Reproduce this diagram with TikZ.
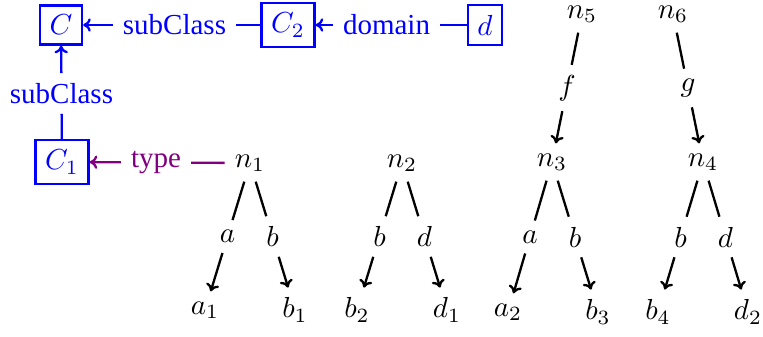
\documentclass[tikz,border=0pt]{standalone}
\usepackage{fontspec}
\setmainfont{Liberation Serif}
\usetikzlibrary{calc,arrows.meta}
\definecolor{mypurple}{RGB}{128,0,128}
\begin{document}
\begin{tikzpicture}[x=0.345pt,y=-0.345pt,>={To[length=2.6pt,width=4.6pt]},
  cls/.style={draw=blue,text=blue,line width=0.8pt},
  bl/.style={draw=blue,line width=0.8pt},
  pl/.style={draw=mypurple,line width=0.8pt},
  kl/.style={draw=black,line width=0.8pt}]
\useasboundingbox (0,0) rectangle (763,336);
% classes
\node[cls] (C) at (61,25) {$C$};
\node[cls] (C2) at (288,25) {$C_2$};
\node[cls] (d) at (485,25) {$d$};
\node[cls] (C1) at (62,162) {$C_1$};
% instance nodes
\node (n1) at (250,163) {$n_1$};
\node (n2) at (402,163) {$n_2$};
\node (n3) at (552,162) {$n_3$};
\node (n4) at (703,162) {$n_4$};
\node (n5) at (582,14) {$n_5$};
\node (n6) at (673,14) {$n_6$};
\node (a1) at (205,310) {$a_1$};
\node (b1) at (295,310) {$b_1$};
\node (b2) at (357,310) {$b_2$};
\node (d1) at (447,310) {$d_1$};
\node (a2) at (508,312) {$a_2$};
\node (b3) at (598,312) {$b_3$};
\node (b4) at (658,312) {$b_4$};
\node (d2) at (748,312) {$d_2$};
% class-level labels
\node[text=blue] (l1) at ($(C)!0.5!(C2)$) {subClass};
\node[text=blue] (l2) at ($(C2)!0.5!(d)$) {domain};
\node[text=blue] (l3) at ($(C)!0.5!(C1)$) {subClass};
\node[text=mypurple] (l4) at ($(C1)!0.5!(n1)$) {type};
\draw[bl] (C2) -- (l1); \draw[bl,->] (l1) -- (C);
\draw[bl] (d) -- (l2); \draw[bl,->] (l2) -- (C2);
\draw[bl] (C1) -- (l3); \draw[bl,->] (l3) -- (C);
\draw[pl] (n1) -- (l4); \draw[pl,->] (l4) -- (C1);
% tree labels
\node (e1) at ($(n1)!0.5!(a1)$) {$a$};
\node (e2) at ($(n1)!0.5!(b1)$) {$b$};
\node (e3) at ($(n2)!0.5!(b2)$) {$b$};
\node (e4) at ($(n2)!0.5!(d1)$) {$d$};
\node (e5) at ($(n3)!0.5!(a2)$) {$a$};
\node (e6) at ($(n3)!0.5!(b3)$) {$b$};
\node (e7) at ($(n4)!0.5!(b4)$) {$b$};
\node (e8) at ($(n4)!0.5!(d2)$) {$d$};
\node (e9) at ($(n5)!0.5!(n3)$) {$f$};
\node (e10) at ($(n6)!0.5!(n4)$) {$g$};
\draw[kl] (n1) -- (e1); \draw[kl,->] (e1) -- (a1);
\draw[kl] (n1) -- (e2); \draw[kl,->] (e2) -- (b1);
\draw[kl] (n2) -- (e3); \draw[kl,->] (e3) -- (b2);
\draw[kl] (n2) -- (e4); \draw[kl,->] (e4) -- (d1);
\draw[kl] (n3) -- (e5); \draw[kl,->] (e5) -- (a2);
\draw[kl] (n3) -- (e6); \draw[kl,->] (e6) -- (b3);
\draw[kl] (n4) -- (e7); \draw[kl,->] (e7) -- (b4);
\draw[kl] (n4) -- (e8); \draw[kl,->] (e8) -- (d2);
\draw[kl] (n5) -- (e9); \draw[kl,->] (e9) -- (n3);
\draw[kl] (n6) -- (e10); \draw[kl,->] (e10) -- (n4);
\end{tikzpicture}
\end{document}
